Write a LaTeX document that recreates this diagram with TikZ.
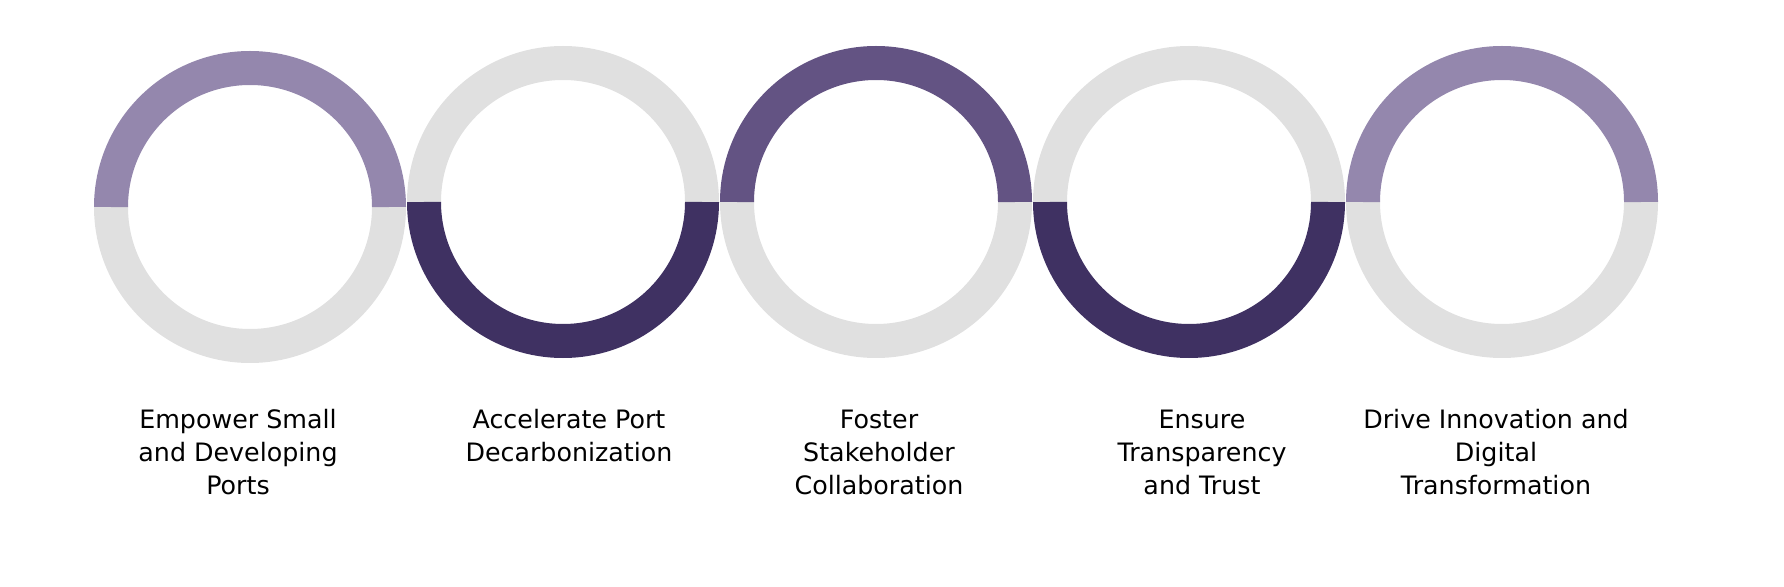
\documentclass[tikz,border=0pt]{standalone}
\usepackage{fontspec}
\setmainfont{DejaVu Sans}
\usepackage{tikz}
\usetikzlibrary{positioning}
\definecolor{lilla}{HTML}{9487AD}
\definecolor{viola}{HTML}{635383}
\definecolor{scuro}{HTML}{3F3162}
\definecolor{grigio}{HTML}{E0E0E0}

\begin{document}
\begin{tikzpicture}[x=0.75pt, y=0.75pt,
  ring/.style={line width=25.5pt},
  lbl/.style={font=\fontsize{19}{24.75}\selectfont, align=center, anchor=base, inner sep=0pt}]
\useasboundingbox (0,0) rectangle (1784,586);
% --- centri degli anelli ---
\coordinate (c1) at (250,379);
\coordinate (c2) at (563,384);
\coordinate (c3) at (876,384);
\coordinate (c4) at (1189,384);
\coordinate (c5) at (1502,384);
% --- anelli: meta' colorata, meta' grigia ---
\draw[ring, grigio] (c1) ++(180:139) arc (180:360:139);
\draw[ring, lilla]  (c1) ++(0:139) arc (0:180:139);
\draw[ring, grigio] (c2) ++(0:139) arc (0:180:139);
\draw[ring, scuro]  (c2) ++(180:139) arc (180:360:139);
\draw[ring, grigio] (c3) ++(180:139) arc (180:360:139);
\draw[ring, viola]  (c3) ++(0:139) arc (0:180:139);
\draw[ring, grigio] (c4) ++(0:139) arc (0:180:139);
\draw[ring, scuro]  (c4) ++(180:139) arc (180:360:139);
\draw[ring, grigio] (c5) ++(180:139) arc (180:360:139);
\draw[ring, lilla]  (c5) ++(0:139) arc (0:180:139);
% --- etichette (base = ultima riga) ---
\node[lbl] (t1) at (238,92) {Empower Small\\and Developing\\Ports};
\node[lbl] (t2) at (569,125) {Accelerate Port\\Decarbonization};
\node[lbl] (t3) at (879,92) {Foster\\Stakeholder\\Collaboration};
\node[lbl] (t4) at (1202,92) {Ensure\\Transparency\\and Trust};
\node[lbl] (t5) at (1496,92) {Drive Innovation and\\Digital\\Transformation};
\end{tikzpicture}
\end{document}
